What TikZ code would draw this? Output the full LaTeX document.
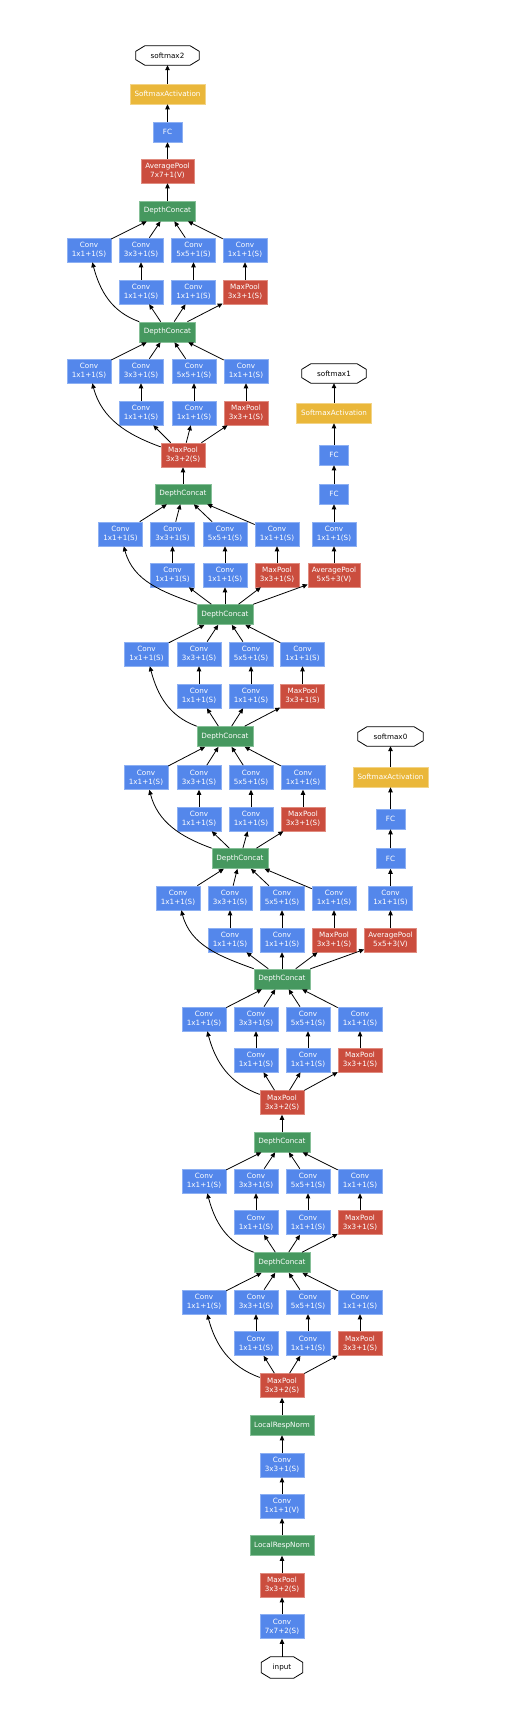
\documentclass[tikz,border=0pt]{standalone}
\usepackage{fontspec}
\setmainfont{DejaVu Sans}
\usetikzlibrary{arrows.meta,calc}
\definecolor{cblue}{HTML}{5487EB}
\definecolor{cbluel}{HTML}{8DB0F3}
\definecolor{cred}{HTML}{CB4D3E}
\definecolor{credl}{HTML}{E08C80}
\definecolor{cgreen}{HTML}{46985F}
\definecolor{cgreenl}{HTML}{86C098}
\definecolor{cyel}{HTML}{EAB73A}
\definecolor{cyell}{HTML}{F3D487}
\tikzset{
 box/.style={rectangle, inner sep=0pt, align=center, font=\fontsize{7.2}{9}\selectfont, text=white, line width=0.6pt},
 conv/.style={box, fill=cblue, draw=cbluel, minimum width=44pt, minimum height=24pt},
 fcbox/.style={box, fill=cblue, draw=cbluel, minimum width=29pt, minimum height=20pt},
 pool/.style={box, fill=cred, draw=credl, minimum width=44pt, minimum height=24pt},
 dcat/.style={box, fill=cgreen, draw=cgreenl, minimum width=56pt, minimum height=20pt},
 smact/.style={box, fill=cyel, draw=cyell, minimum width=75pt, minimum height=20pt},
 octt/.style={rectangle, inner sep=0pt, font=\fontsize{7.2}{9}\selectfont, text=black},
 conn/.style={draw=black, line width=0.8pt, -{Triangle[length=5pt,width=4.5pt]}},
}
\newcommand\octnode[6]{%
 \node[octt, minimum width=#4pt, minimum height=#5pt] (#1) at (#2,#3) {#6};
 \draw[line width=0.8pt] ($(#1.north west)+(9,0)$) -- ($(#1.north east)+(-9,0)$) -- ($(#1.north east)+(0,-5.5)$) -- ($(#1.south east)+(0,5.5)$) -- ($(#1.south east)+(-9,0)$) -- ($(#1.south west)+(9,0)$) -- ($(#1.south west)+(0,5.5)$) -- ($(#1.north west)+(0,-5.5)$) -- cycle;
}
\newcommand\incmod[8]{%
  \node[conv] (#1a) at (#3,-#7) {Conv\\1x1+1(S)};
  \node[conv] (#1b) at (#4,-#7) {Conv\\3x3+1(S)};
  \node[conv] (#1c) at (#5,-#7) {Conv\\5x5+1(S)};
  \node[conv] (#1d) at (#6,-#7) {Conv\\1x1+1(S)};
  \node[conv] (#1e) at (#4,-#8) {Conv\\1x1+1(S)};
  \node[conv] (#1f) at (#5,-#8) {Conv\\1x1+1(S)};
  \node[pool] (#1g) at (#6,-#8) {MaxPool\\3x3+1(S)};
  \draw[conn] (#2) to[out=160,in=-75] (#1a);
  \draw[conn] (#2) -- (#1e);
  \draw[conn] (#2) -- (#1f);
  \draw[conn] (#2) -- (#1g);
  \draw[conn] (#1e) -- (#1b);
  \draw[conn] (#1f) -- (#1c);
  \draw[conn] (#1g) -- (#1d);
}
\newcommand\incout[2]{\foreach \s in {a,b,c,d}{\draw[conn] (#1\s) -- (#2);}}
\begin{document}
\begin{tikzpicture}[x=1pt,y=1pt]
\useasboundingbox (0,0) rectangle (520,-1712);
% stem
\octnode{input}{282}{-1667.5}{41}{21}{input}
\node[conv] (conv1) at (282,-1626.5) {Conv\\7x7+2(S)};
\node[pool] (pool1) at (282,-1585) {MaxPool\\3x3+2(S)};
\node[dcat, minimum width=64pt] (lrn1) at (282,-1545.5) {LocalRespNorm};
\node[conv] (conv2) at (282,-1506) {Conv\\1x1+1(V)};
\node[conv] (conv3) at (282,-1465) {Conv\\3x3+1(S)};
\node[dcat, minimum width=64pt] (lrn2) at (282,-1425) {LocalRespNorm};
\node[pool] (pool2) at (282,-1385.5) {MaxPool\\3x3+2(S)};
\draw[conn] (input) -- (conv1);
\draw[conn] (conv1) -- (pool1);
\draw[conn] (pool1) -- (lrn1);
\draw[conn] (lrn1) -- (conv2);
\draw[conn] (conv2) -- (conv3);
\draw[conn] (conv3) -- (lrn2);
\draw[conn] (lrn2) -- (pool2);
% 3a, 3b
\incmod{tA}{pool2}{204}{256}{308}{360}{1302}{1343.5}
\node[dcat] (dA) at (282,-1262.5) {DepthConcat};
\incout{tA}{dA}
\incmod{tB}{dA}{204}{256}{308}{360}{1181}{1222.5}
\node[dcat] (dB) at (282,-1142) {DepthConcat};
\incout{tB}{dB}
\node[pool] (pool3) at (282,-1102.5) {MaxPool\\3x3+2(S)};
\draw[conn] (dB) -- (pool3);
% 4a
\incmod{fA}{pool3}{204}{256}{308}{360}{1019}{1060}
\node[dcat] (dC) at (282,-979) {DepthConcat};
\incout{fA}{dC}
% 4b + aux0
\incmod{fB}{dC}{178}{230}{282}{334}{898}{940}
\node[pool, minimum width=52pt] (ap0) at (390.5,-940) {AveragePool\\5x5+3(V)};
\node[conv] (ac0) at (390.5,-898) {Conv\\1x1+1(S)};
\node[fcbox] (fa0) at (390.5,-858.5) {FC};
\node[fcbox] (fb0) at (390.5,-819) {FC};
\node[smact] (sa0) at (390.5,-777) {SoftmaxActivation};
\octnode{sm0}{390.5}{-736.5}{65}{19}{softmax0}
\draw[conn] (dC) -- (ap0);
\draw[conn] (ap0) -- (ac0);
\draw[conn] (ac0) -- (fa0);
\draw[conn] (fa0) -- (fb0);
\draw[conn] (fb0) -- (sa0);
\draw[conn] (sa0) -- (sm0);
\node[dcat] (dD) at (240,-858.5) {DepthConcat};
\incout{fB}{dD}
% 4c
\incmod{fC}{dD}{146}{199}{251}{303}{777.5}{819}
\node[dcat] (dE) at (225,-736.5) {DepthConcat};
\incout{fC}{dE}
% 4d
\incmod{fD}{dE}{146.5}{199}{251}{302.5}{654}{696}
\node[dcat] (dF) at (225,-614.5) {DepthConcat};
\incout{fD}{dF}
% 4e + aux1
\incmod{fE}{dF}{120.5}{172.5}{225}{277}{534}{575}
\node[pool, minimum width=52pt] (ap1) at (334,-575) {AveragePool\\5x5+3(V)};
\node[conv] (ac1) at (334,-534) {Conv\\1x1+1(S)};
\node[fcbox] (fa1) at (334,-494) {FC};
\node[fcbox] (fb1) at (334,-455) {FC};
\node[smact] (sa1) at (334,-413) {SoftmaxActivation};
\octnode{sm1}{334}{-373.5}{64}{19}{softmax1}
\draw[conn] (dF) -- (ap1);
\draw[conn] (ap1) -- (ac1);
\draw[conn] (ac1) -- (fa1);
\draw[conn] (fa1) -- (fb1);
\draw[conn] (fb1) -- (sa1);
\draw[conn] (sa1) -- (sm1);
\node[dcat] (dG) at (183,-494) {DepthConcat};
\incout{fE}{dG}
\node[pool] (pool4) at (183,-455) {MaxPool\\3x3+2(S)};
\draw[conn] (dG) -- (pool4);
% 5a, 5b
\incmod{gA}{pool4}{89}{141}{194}{246}{371}{413}
\node[dcat] (dH) at (167.5,-332) {DepthConcat};
\incout{gA}{dH}
\incmod{gB}{dH}{89}{141}{193.5}{245}{250}{292}
\node[dcat] (dI) at (167.5,-211) {DepthConcat};
\incout{gB}{dI}
\node[pool, minimum width=53pt] (ap2) at (167.5,-171) {AveragePool\\7x7+1(V)};
\node[fcbox] (fc2) at (167.5,-132) {FC};
\node[smact] (sa2) at (167.5,-94) {SoftmaxActivation};
\octnode{sm2}{167.5}{-55.5}{63}{19}{softmax2}
\draw[conn] (dI) -- (ap2);
\draw[conn] (ap2) -- (fc2);
\draw[conn] (fc2) -- (sa2);
\draw[conn] (sa2) -- (sm2);
\end{tikzpicture}
\end{document}
